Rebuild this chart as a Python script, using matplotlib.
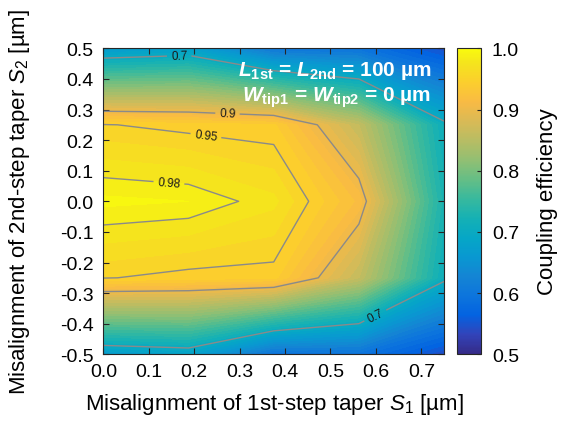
import numpy as np
import matplotlib
matplotlib.use("Agg")
import matplotlib.pyplot as plt
from matplotlib.colors import LinearSegmentedColormap, Normalize
from matplotlib.cm import ScalarMappable
from matplotlib.ticker import FormatStrFormatter

# simulation grid (misalignment in um)
S1 = [0.0, 0.1875, 0.375, 0.5625, 0.75]
S2 = [-0.5, -0.25, 0.0, 0.25, 0.5]

# coupling efficiency, rows follow S2, columns follow S1
EFF = [
    [0.667, 0.678, 0.592, 0.593, 0.540],
    [0.951, 0.945, 0.944, 0.860, 0.708],
    [0.993, 0.990, 0.973, 0.917, 0.725],
    [0.951, 0.945, 0.942, 0.860, 0.708],
    [0.663, 0.675, 0.600, 0.593, 0.542],
]

LINE_LEVELS = [0.7, 0.9, 0.95, 0.98]
X_TICKS = [0.0, 0.1, 0.2, 0.3, 0.4, 0.5, 0.6, 0.7]
Y_TICKS = [-0.5, -0.4, -0.3, -0.2, -0.1, 0.0, 0.1, 0.2, 0.3, 0.4, 0.5]
CBAR_TICKS = [0.5, 0.6, 0.7, 0.8, 0.9, 1.0]

# parula, sampled every few entries of the 64 colour table
PARULA = [
    (0, (0.2081, 0.1663, 0.5292)),
    (4, (0.1959, 0.2645, 0.7279)),
    (8, (0.0117, 0.3875, 0.8820)),
    (12, (0.0498, 0.4586, 0.8641)),
    (16, (0.0793, 0.5200, 0.8312)),
    (20, (0.0343, 0.5966, 0.8199)),
    (24, (0.0228, 0.6535, 0.7768)),
    (28, (0.0843, 0.6928, 0.7062)),
    (32, (0.2178, 0.7250, 0.6193)),
    (36, (0.3953, 0.7459, 0.5244)),
    (40, (0.5709, 0.7485, 0.4494)),
    (44, (0.7184, 0.7411, 0.3905)),
    (48, (0.8507, 0.7299, 0.3360)),
    (52, (0.9739, 0.7314, 0.2666)),
    (56, (0.9880, 0.8066, 0.1794)),
    (60, (0.9589, 0.8949, 0.1132)),
    (63, (0.9763, 0.9831, 0.0538)),
]

plt.rcParams['font.family'] = ['Liberation Sans', 'DejaVu Sans']
plt.rcParams['font.size'] = 14
plt.rcParams['axes.unicode_minus'] = False
plt.rcParams['mathtext.fontset'] = 'custom'
plt.rcParams['mathtext.rm'] = 'Liberation Sans'
plt.rcParams['mathtext.it'] = 'Liberation Sans:italic'
plt.rcParams['mathtext.bf'] = 'Liberation Sans:bold'
plt.rcParams['mathtext.bfit'] = 'Liberation Sans:italic:bold'

cmap = LinearSegmentedColormap.from_list(
    "parula", [(i / 63, c) for i, c in PARULA])
norm = Normalize(0.5, 1.0)

fig = plt.figure(figsize=(5.7, 4.27), dpi=100)
ax = fig.add_axes([0.1814, 0.1679, 0.5976, 0.7166])

ax.contourf(S1, S2, EFF, levels=np.linspace(0.5, 1.0, 51), cmap=cmap, norm=norm)
lines = ax.contour(S1, S2, EFF, levels=LINE_LEVELS, colors='#8a8a8a', linewidths=1.0)
ax.clabel(lines, fmt='%g', fontsize=8.5, colors='#1a1a1a', inline_spacing=4,
          manual=[(0.167, 0.474), (0.273, 0.28), (0.225, 0.207),
                  (0.144, 0.056), (0.599, -0.374)])

ax.set_xlim(0, 0.75)
ax.set_ylim(-0.5, 0.5)
ax.set_xticks(X_TICKS)
ax.set_yticks(Y_TICKS)
ax.xaxis.set_major_formatter(FormatStrFormatter('%.1f'))
ax.yaxis.set_major_formatter(FormatStrFormatter('%.1f'))
ax.tick_params(direction='in', length=4, width=0.8, top=True, right=True,
               color='#262626', labelsize=14)
ax.tick_params(axis='x', pad=6)
ax.tick_params(axis='y', pad=7)
for sp in ax.spines.values():
    sp.set_color('#262626')
    sp.set_linewidth(0.8)

ax.text(0.7215, 0.413, r"$\mathbfit{L}_{\mathbf{1st}}$ = $\mathbfit{L}_{\mathbf{2nd}}$ = 100 µm",
        color='white', fontsize=15, fontweight='bold', ha='right', va='baseline')
ax.text(0.7215, 0.329, r"$\mathbfit{W}_{\mathbf{tip1}}$ = $\mathbfit{W}_{\mathbf{tip2}}$ = 0 µm",
        color='white', fontsize=15, fontweight='bold', ha='right', va='baseline')

cax = fig.add_axes([0.8023, 0.1679, 0.041, 0.7166])
cb = fig.colorbar(ScalarMappable(norm=norm, cmap=cmap), cax=cax, ticks=CBAR_TICKS)
cb.ax.yaxis.set_major_formatter(FormatStrFormatter('%.1f'))
cb.ax.tick_params(direction='in', length=3, width=0.8, pad=8, labelsize=14,
                  color='#262626')
cb.outline.set_edgecolor('#262626')
cb.outline.set_linewidth(0.8)

fig.text(0.4805, 0.052, r"Misalignment of 1st-step taper $\mathit{S}_\mathrm{1}$ [µm]",
         fontsize=16, ha='center', va='center')
fig.text(0.035, 0.527, r"Misalignment of 2nd-step taper $\mathit{S}_\mathrm{2}$ [µm]",
         fontsize=16, ha='center', va='center', rotation=90)
fig.text(0.9614, 0.527, "Coupling efficiency",
         fontsize=16, ha='center', va='center', rotation=90)

fig.savefig('out.png', dpi=100)
